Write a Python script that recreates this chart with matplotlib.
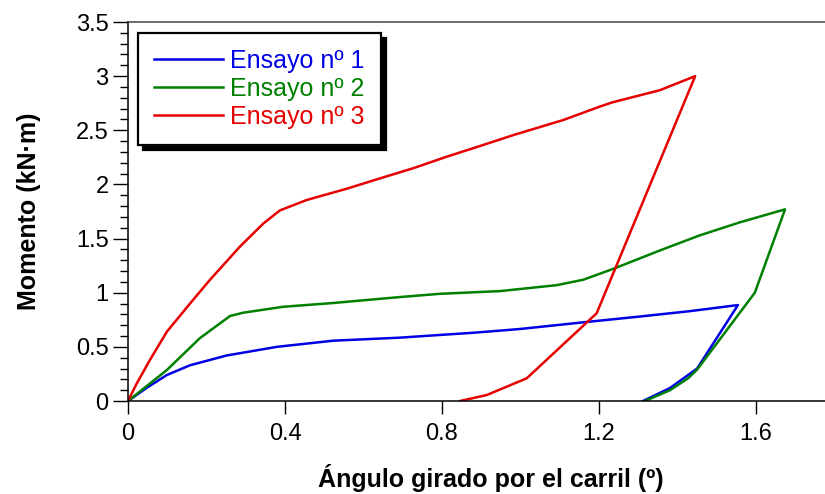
import matplotlib
matplotlib.use("Agg")
import matplotlib.pyplot as plt
import numpy as np

plt.rcParams['font.family'] = ['Liberation Sans', 'DejaVu Sans']

# Ensayo 1 (blue)
x1 = [0, 0.047, 0.099, 0.158, 0.251, 0.379, 0.523, 0.693, 0.795, 0.879, 0.999,
      1.169, 1.304, 1.432, 1.554, 1.45, 1.427, 1.381, 1.312]
y1 = [0, 0.12, 0.24, 0.33, 0.42, 0.50, 0.557, 0.585, 0.61, 0.63, 0.665,
      0.73, 0.78, 0.83, 0.886, 0.30, 0.24, 0.12, 0.0]

# Ensayo 2 (green)
x2 = [0, 0.099, 0.183, 0.260, 0.293, 0.395, 0.523, 0.693, 0.795, 0.948, 1.093,
      1.16, 1.236, 1.355, 1.457, 1.559, 1.674, 1.597, 1.45, 1.427, 1.381, 1.317]
y2 = [0, 0.286, 0.58, 0.785, 0.815, 0.87, 0.905, 0.96, 0.99, 1.015, 1.07,
      1.12, 1.22, 1.39, 1.53, 1.65, 1.77, 1.0, 0.29, 0.21, 0.10, 0.0]

# Ensayo 3 (red)
x3 = [0, 0.022, 0.056, 0.099, 0.158, 0.209, 0.285, 0.345, 0.387, 0.455, 0.557,
      0.642, 0.727, 0.812, 0.897, 0.982, 1.109, 1.203, 1.236, 1.355, 1.445,
      1.194, 1.016, 0.914, 0.846]
y3 = [0, 0.16, 0.38, 0.64, 0.90, 1.12, 1.425, 1.64, 1.76, 1.856, 1.96,
      2.056, 2.15, 2.256, 2.355, 2.456, 2.595, 2.72, 2.76, 2.87, 3.0,
      0.81, 0.21, 0.055, 0.0]

labels = ['Ensayo nº 1', 'Ensayo nº 2', 'Ensayo nº 3']
colors = ['#0000e6', '#008000', '#e60000']

xticks = [0, 0.4, 0.8, 1.2, 1.6]
xticklabels = ['0', '0.4', '0.8', '1.2', '1.6']
yticks = [0, 0.5, 1, 1.5, 2, 2.5, 3, 3.5]
yticklabels = ['0', '0.5', '1', '1.5', '2', '2.5', '3', '3.5']

fig = plt.figure(figsize=(8.25, 4.94), dpi=100)
ax = fig.add_axes([128/825, 93/494, 697/825, 379/494])

for xs, ys, lab, c in zip([x1, x2, x3], [y1, y2, y3], labels, colors):
    ax.plot(xs, ys, color=c, lw=1.8, label=lab)

ax.set_xlim(0, 697/392.5)
ax.set_ylim(0, 3.5)
ax.set_xticks(xticks)
ax.set_xticklabels(xticklabels)
ax.set_yticks(yticks)
ax.set_yticklabels(yticklabels)
ax.set_yticks(np.arange(0, 3.5, 0.1), minor=True)
ax.tick_params(axis='both', which='major', direction='out', labelsize=17, width=1)
ax.tick_params(axis='x', which='major', length=9, pad=7)
ax.tick_params(axis='y', which='major', length=11, pad=3)
ax.tick_params(axis='y', which='minor', length=6, width=1)
ax.spines['right'].set_visible(False)
for s in ['left', 'bottom', 'top']:
    ax.spines[s].set_linewidth(1.1)
ax.spines['top'].set_color('#444444')

ax.set_xlabel('Ángulo girado por el carril (º)', fontsize=18, fontweight='bold')
ax.xaxis.set_label_coords(0.52, -0.165)
ax.set_ylabel('Momento (kN·m)', fontsize=18, fontweight='bold')
ax.yaxis.set_label_coords(-0.125, 0.5)

leg = ax.legend(loc='upper left', bbox_to_anchor=(0.014, 0.971), borderaxespad=0,
                fontsize=18, labelcolor='linecolor', fancybox=False,
                edgecolor='black', framealpha=1, handlelength=2.75,
                handletextpad=0.3, labelspacing=0.15, borderpad=0.65,
                shadow={'color': 'black', 'alpha': 1, 'ox': 3.5, 'oy': -3.5})
leg.get_frame().set_linewidth(1.6)

fig.savefig('out.png', dpi=100)
